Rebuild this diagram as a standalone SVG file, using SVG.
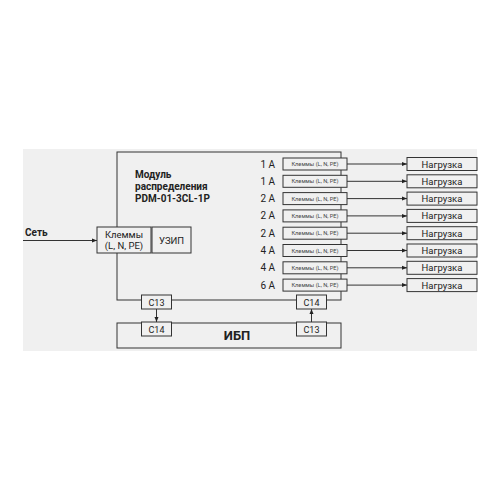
<svg xmlns="http://www.w3.org/2000/svg" width="500" height="500" viewBox="0 0 500 500">
<defs>
<marker id="ah" viewBox="0 0 10 10" refX="10" refY="5" markerWidth="5" markerHeight="5" orient="auto" markerUnits="userSpaceOnUse"><path d="M0,1 L10,5 L0,9 Z" fill="#222"/></marker>
<style>
.ln{stroke:#333;stroke-width:1;fill:none}
.bx{stroke:#333;stroke-width:1;fill:#f0f0f0}
.t{font-family:Roboto,"Liberation Sans",sans-serif;fill:#222}
.b{font-weight:bold}
.c{text-anchor:middle}
.s{font-size:5.7px;fill:#444}
.n{font-size:9.5px}
.a{font-size:10px;text-anchor:end}
</style>
</defs>
<rect x="23" y="149" width="454" height="202" fill="#f0f0f0"/>
<g id="module">
<rect class="ln" x="117" y="152" width="224" height="148"/>
<text class="t b" x="135" y="178" font-size="10">Модуль</text>
<text class="t b" x="135" y="190" font-size="10">распределения</text>
<text class="t b" x="135" y="202" font-size="10">PDM-01-3CL-1P</text>
</g>
<g id="ups">
<rect class="ln" x="117" y="323" width="224" height="25"/>
<text class="t b c" x="237" y="340" font-size="13">ИБП</text>
</g>
<g id="connectors">
<line class="ln" x1="23" y1="240.5" x2="97" y2="240.5" marker-end="url(#ah)"/>
<line class="ln" x1="156.5" y1="309" x2="156.5" y2="322" marker-end="url(#ah)"/>
<line class="ln" x1="311.5" y1="322" x2="311.5" y2="309" marker-end="url(#ah)"/>
<line class="ln" x1="347" y1="164" x2="407" y2="164" marker-end="url(#ah)"/>
<line class="ln" x1="347" y1="181.3" x2="407" y2="181.3" marker-end="url(#ah)"/>
<line class="ln" x1="347" y1="198.6" x2="407" y2="198.6" marker-end="url(#ah)"/>
<line class="ln" x1="347" y1="215.9" x2="407" y2="215.9" marker-end="url(#ah)"/>
<line class="ln" x1="347" y1="233.2" x2="407" y2="233.2" marker-end="url(#ah)"/>
<line class="ln" x1="347" y1="250.5" x2="407" y2="250.5" marker-end="url(#ah)"/>
<line class="ln" x1="347" y1="267.8" x2="407" y2="267.8" marker-end="url(#ah)"/>
<line class="ln" x1="347" y1="285.1" x2="407" y2="285.1" marker-end="url(#ah)"/>
</g>
<text class="t b" x="25" y="236" font-size="10">Сеть</text>
<g id="term-in">
<rect class="bx" x="97" y="227" width="54" height="26"/>
<text class="t c" x="124" y="237.5" font-size="9.5">Клеммы</text>
<text class="t c" x="124" y="248.5" font-size="9.5">(L, N, PE)</text>
</g>
<g id="uzip">
<rect class="bx" x="152" y="227" width="39" height="26"/>
<text class="t c" x="171.5" y="243.5" font-size="9.5">УЗИП</text>
</g>
<g id="c13-top"><rect class="bx" x="141.5" y="295" width="30" height="14"/><text class="t c" x="156.5" y="305.5" font-size="9">C13</text></g>
<g id="c14-bot"><rect class="bx" x="141.5" y="322" width="30" height="14"/><text class="t c" x="156.5" y="332.5" font-size="9">C14</text></g>
<g id="c14-top"><rect class="bx" x="296.5" y="295" width="30" height="14"/><text class="t c" x="311.5" y="305.5" font-size="9">C14</text></g>
<g id="c13-bot"><rect class="bx" x="296.5" y="322" width="30" height="14"/><text class="t c" x="311.5" y="332.5" font-size="9">C13</text></g>
<g id="out1"><text class="t a" x="275" y="167.5">1 A</text><rect class="bx" x="283" y="158" width="64" height="12"/><text class="t c s" x="315" y="166">Клеммы (L, N, PE)</text><rect class="bx" x="407" y="157.5" width="70" height="13"/><text class="t c n" x="442" y="167.5">Нагрузка</text></g>
<g id="out2"><text class="t a" x="275" y="184.8">1 A</text><rect class="bx" x="283" y="175.3" width="64" height="12"/><text class="t c s" x="315" y="183.3">Клеммы (L, N, PE)</text><rect class="bx" x="407" y="174.8" width="70" height="13"/><text class="t c n" x="442" y="184.8">Нагрузка</text></g>
<g id="out3"><text class="t a" x="275" y="202.1">2 A</text><rect class="bx" x="283" y="192.6" width="64" height="12"/><text class="t c s" x="315" y="200.6">Клеммы (L, N, PE)</text><rect class="bx" x="407" y="192.1" width="70" height="13"/><text class="t c n" x="442" y="202.1">Нагрузка</text></g>
<g id="out4"><text class="t a" x="275" y="219.4">2 A</text><rect class="bx" x="283" y="209.9" width="64" height="12"/><text class="t c s" x="315" y="217.9">Клеммы (L, N, PE)</text><rect class="bx" x="407" y="209.4" width="70" height="13"/><text class="t c n" x="442" y="219.4">Нагрузка</text></g>
<g id="out5"><text class="t a" x="275" y="236.7">2 A</text><rect class="bx" x="283" y="227.2" width="64" height="12"/><text class="t c s" x="315" y="235.2">Клеммы (L, N, PE)</text><rect class="bx" x="407" y="226.7" width="70" height="13"/><text class="t c n" x="442" y="236.7">Нагрузка</text></g>
<g id="out6"><text class="t a" x="275" y="254">4 A</text><rect class="bx" x="283" y="244.5" width="64" height="12"/><text class="t c s" x="315" y="252.5">Клеммы (L, N, PE)</text><rect class="bx" x="407" y="244" width="70" height="13"/><text class="t c n" x="442" y="254">Нагрузка</text></g>
<g id="out7"><text class="t a" x="275" y="271.3">4 A</text><rect class="bx" x="283" y="261.8" width="64" height="12"/><text class="t c s" x="315" y="269.8">Клеммы (L, N, PE)</text><rect class="bx" x="407" y="261.3" width="70" height="13"/><text class="t c n" x="442" y="271.3">Нагрузка</text></g>
<g id="out8"><text class="t a" x="275" y="288.6">6 A</text><rect class="bx" x="283" y="279.1" width="64" height="12"/><text class="t c s" x="315" y="287.1">Клеммы (L, N, PE)</text><rect class="bx" x="407" y="278.6" width="70" height="13"/><text class="t c n" x="442" y="288.6">Нагрузка</text></g>
</svg>
